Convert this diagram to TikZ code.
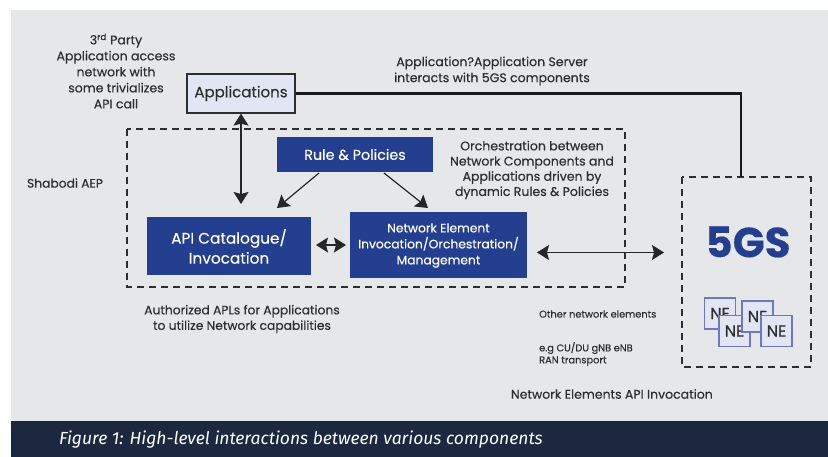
\documentclass[tikz,border=0pt]{standalone}
\usepackage{fontspec}
\setmainfont{Poppins}[FakeBold=0.35]
\newfontfamily\capfont{Fira Sans}
\usetikzlibrary{arrows.meta}
\definecolor{panel}{HTML}{E6E7E9}
\definecolor{band}{HTML}{1B2840}
\definecolor{deepblue}{HTML}{243F8F}
\definecolor{lilac}{HTML}{E2E5F4}
\definecolor{needge}{HTML}{6E78C2}
\definecolor{ink}{HTML}{2E2E2E}
\tikzset{
  bluebox/.style={fill=deepblue, text=white, inner sep=0pt, align=center},
  appbox/.style={fill=lilac, draw=ink, line width=1.2pt, inner sep=0pt, text=ink},
  nebox/.style={fill=lilac, draw=needge, line width=1.2pt, inner sep=0pt,
                minimum width=31pt, minimum height=31pt, text=ink,
                font=\fontsize{16}{16}\selectfont\addfontfeatures{FakeBold=0.8}},
  note/.style={text=ink, align=center, inner sep=0pt},
  dashbox/.style={draw=ink, line width=1.2pt, dash pattern=on 7pt off 5pt},
  tips/.style={line width=1.2pt, draw=black!85,
               {Stealth[length=12pt,width=15pt,inset=2pt]}-{Stealth[length=12pt,width=15pt,inset=2pt]}},
  tip/.style={line width=1.2pt, draw=black!85, -{Stealth[length=12pt,width=15pt,inset=2pt]}},
}
\begin{document}
\begin{tikzpicture}[x=1pt,y=-1pt]
\useasboundingbox (0,0) rectangle (828,457);
% background panel and caption band
\fill[panel] (11,10) rectangle (828,421);
\fill[band] (11,421) rectangle (828,457);

% dashed groups
\draw[dashbox] (127,129) rectangle (625,287);
\draw[dashbox] (682,177) rectangle (811,367);

% boxes
\node[appbox, minimum width=108pt, minimum height=39pt,
      font=\fontsize{15}{15}\selectfont] (apps) at (241,93.5) {Applications};
\node[bluebox, minimum width=156pt, minimum height=35pt,
      font=\fontsize{14.3}{15}\selectfont] (rule) at (355,154.5) {Rule \& Policies};
\node[bluebox, minimum width=164pt, minimum height=58pt,
      font=\fontsize{15.3}{20}\selectfont] (api) at (229,246.5) {API Catalogue/\\Invocation};
\node[bluebox, minimum width=177pt, minimum height=66pt,
      font=\fontsize{12.3}{16}\selectfont] (ne) at (438.5,245.5) {Network Element\\Invocation/Orchestration/\\Management};

% 5GS block
\node[text=deepblue, inner sep=0pt, font=\fontsize{42}{42}\selectfont\bfseries] (gs) at (748,242) {5GS};
\node[nebox] (ne1) at (720,313.5) {NE};
\node[nebox] (ne2) at (734.5,331) {NE};
\node[nebox] (ne3) at (757.5,316.5) {NE};
\node[nebox] (ne4) at (776.5,331) {NE};

% labels
\node[note, font=\fontsize{12.5}{16}\selectfont] (party) at (116,71)
  {3\textsuperscript{rd} Party\\Application access\\network with\\some trivializes\\API call};
\node[note, font=\fontsize{12.5}{16}\selectfont] (server) at (492,71)
  {Application?Application Server\\interacts with 5GS components};
\node[note, font=\fontsize{12.5}{15.2}\selectfont] (orch) at (532,170)
  {Orchestration between\\Network Components and\\Applications driven by\\dynamic Rules \& Policies};
\node[note, font=\fontsize{12.3}{12}\selectfont] (aep) at (65,183) {Shabodi AEP};
\node[note, font=\fontsize{12.3}{15.5}\selectfont] (auth) at (242,319)
  {Authorized APLs for Applications\\to utilize Network capabilities};
\node[note, anchor=west, font=\fontsize{9.8}{12}\selectfont] (other) at (539,314) {Other network elements};
\node[note, anchor=west, align=left, font=\fontsize{9.8}{12}\selectfont] (eg) at (539,354)
  {e.g CU/DU gNB eNB\\RAN transport};
\node[note, anchor=east, font=\fontsize{12.5}{12}\selectfont] (neapi) at (713,394) {Network Elements API Invocation};
\node[anchor=west, inner sep=0pt, text=white,
      font=\capfont\itshape\fontsize{17.5}{18}\selectfont] (cap) at (59,440)
  {Figure 1: High-level interactions between various components};

% connector anchors
\coordinate (gsin) at (741,177);
\coordinate (apitop) at (241,204);
\coordinate (ruleL) at (319,173);
\coordinate (ruleR) at (384,173);
\coordinate (apiTR) at (277,208);
\coordinate (neTL) at (428,208);
\coordinate (apiR) at (316,245);
\coordinate (neL) at (346,245);
\coordinate (neR) at (537,252.5);
\coordinate (gsL) at (664,252.5);

% connectors
\draw[line width=2.4pt, draw=black!90] (apps.east) -| (gsin);
\draw[tips] (apps.south) -- (apitop);
\draw[tip] (ruleL) -- (apiTR);
\draw[tip] (ruleR) -- (neTL);
\draw[tips] (apiR) -- (neL);
\draw[tips] (neR) -- (gsL);
\end{tikzpicture}
\end{document}
